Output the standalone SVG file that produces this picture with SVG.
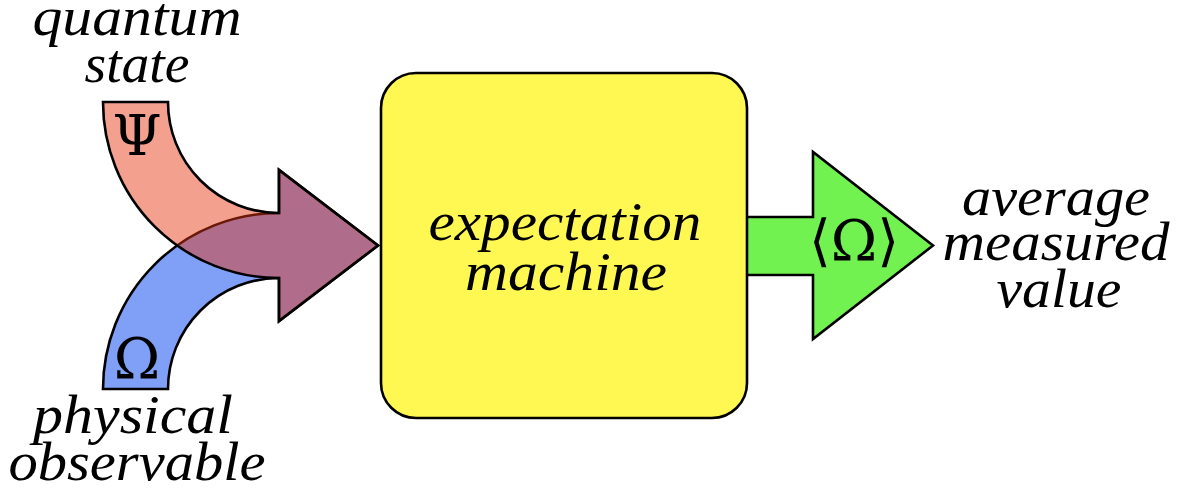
<svg xmlns="http://www.w3.org/2000/svg" width="1182" height="496" viewBox="0 0 1182 496">
<style>
.lbl{font-family:"Times New Roman","Liberation Serif",serif;font-style:italic;font-size:54px;fill:#000;text-anchor:middle}
.sym{font-family:"DejaVu Serif",serif;font-size:56px;fill:#000;text-anchor:middle}
.edge{stroke:#000;stroke-width:2.6;stroke-linejoin:miter}
</style>
<rect width="1182" height="496" fill="#fff"/>
<g id="connectors">
<path id="observable-arrow" class="edge" fill="#80a0f8" d="M103,389 L168,389 A111,111 0 0 1 279,278 L279,321 L378,245.5 L279,170 L279,213 A176,176 0 0 0 103,389 Z"/>
<path id="state-arrow" class="edge" fill="#e73310" fill-opacity="0.465" d="M103,102 L168,102 A111,111 0 0 0 279,213 L279,170 L378,245.5 L279,321 L279,278 A176,176 0 0 1 103,102 Z"/>
<path id="output-arrow" class="edge" fill="#72f250" d="M745,217 L813,217 L813,152 L933,245.5 L813,339 L813,275 L745,275 Z"/>
</g>
<g id="machine">
<rect x="381" y="73" width="366" height="345" rx="35" ry="35" fill="#fff853" class="edge"/>
<text class="lbl" x="565" y="240" textLength="273" lengthAdjust="spacingAndGlyphs">expectation</text>
<text class="lbl" x="566" y="290" textLength="202" lengthAdjust="spacingAndGlyphs">machine</text>
</g>
<g id="quantum-state">
<text class="sym" x="137" y="155" font-size="57">Ψ</text>
<text class="lbl" x="137" y="35" textLength="209" lengthAdjust="spacingAndGlyphs">quantum</text>
<text class="lbl" x="137" y="82" textLength="105" lengthAdjust="spacingAndGlyphs">state</text>
</g>
<g id="physical-observable">
<text class="sym" x="137" y="378" font-size="51">Ω</text>
<text class="lbl" x="133" y="433" textLength="200" lengthAdjust="spacingAndGlyphs">physical</text>
<text class="lbl" x="137" y="480" textLength="257" lengthAdjust="spacingAndGlyphs">observable</text>
</g>
<g id="average-value">
<text class="sym" x="854" y="260" font-size="52">⟨Ω⟩</text>
<text class="lbl" x="1056" y="215" textLength="188" lengthAdjust="spacingAndGlyphs">average</text>
<text class="lbl" x="1056" y="260" textLength="227" lengthAdjust="spacingAndGlyphs">measured</text>
<text class="lbl" x="1059" y="307" textLength="125" lengthAdjust="spacingAndGlyphs">value</text>
</g>
</svg>
